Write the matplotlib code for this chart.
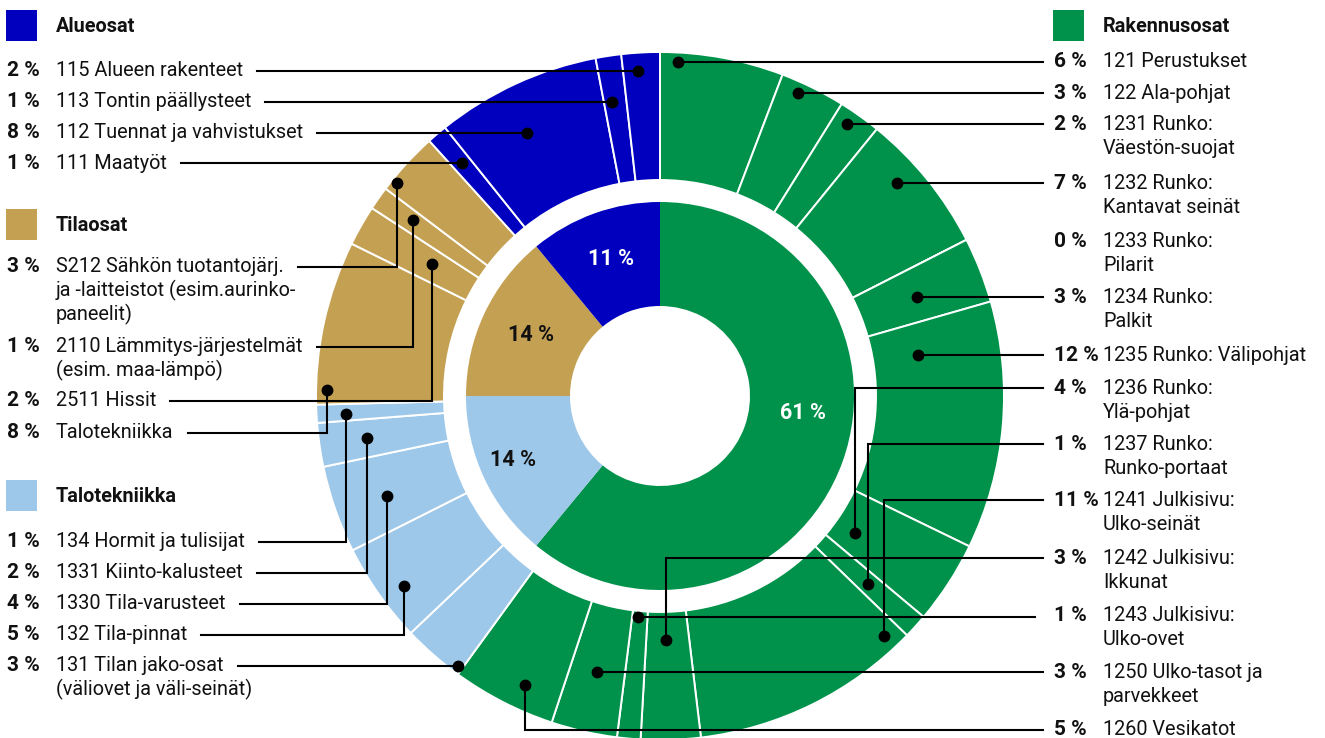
import matplotlib.pyplot as plt

# === Figure / donut geometry (pixels, y measured from the top) ===
W, H = 1325, 738
CX, CY = 660, 396
R_OUT, R_MID, R_IN, R_HOLE = 344, 216, 194, 90

BLUE = "#0000BE"
TAN = "#C4A052"
LIGHTBLUE = "#9EC8E9"
GREEN = "#00924A"
INK = "#111111"

plt.rcParams["font.family"] = ["Roboto", "DejaVu Sans"]

# === Inner ring: main groups, clockwise from the top ===
group_pct = [61, 14, 14, 11]
group_colors = [GREEN, LIGHTBLUE, TAN, BLUE]
group_text_colors = ["white", INK, INK, "white"]
group_label_xy = [(803, 413), (513, 460), (531, 335), (611, 259)]

# === Outer ring: sub-items, clockwise from the top ===
# shown = percentage printed in the label, share = slice size read off the ring
rak_names = ["121 Perustukset", "122 Ala-pohjat", "1231 Runko:\nVäestön-suojat",
             "1232 Runko:\nKantavat seinät", "1233 Runko:\nPilarit", "1234 Runko:\nPalkit",
             "1235 Runko: Välipohjat", "1236 Runko:\nYlä-pohjat", "1237 Runko:\nRunko-portaat",
             "1241 Julkisivu:\nUlko-seinät", "1242 Julkisivu:\nIkkunat",
             "1243 Julkisivu:\nUlko-ovet", "1250 Ulko-tasot ja\nparvekkeet", "1260 Vesikatot"]
rak_shown = [6, 3, 2, 7, 0, 3, 12, 4, 1, 11, 3, 1, 3, 5]
rak_share = [5.8, 3.06, 2.0, 6.64, 0.0, 3.07, 11.63, 3.9, 1.15, 10.85, 2.8, 1.1, 3.1, 4.9]

tek_names = ["131 Tilan jako-osat\n(väliovet ja väli-seinät)", "132 Tila-pinnat",
             "1330 Tila-varusteet", "1331 Kiinto-kalusteet", "134 Hormit ja tulisijat"]
tek_shown = [3, 5, 4, 2, 1]
tek_share = [2.9, 4.7, 4.1, 2.05, 0.85]

tila_names = ["Talotekniikka", "2511 Hissit",
              "2110 Lämmitys-järjestelmät\n(esim. maa-lämpö)",
              "S212 Sähkön tuotantojärj.\nja -laitteistot (esim.aurinko-\npaneelit)"]
tila_shown = [8, 2, 1, 3]
tila_share = [7.7, 1.9, 1.1, 3.0]

alue_names = ["111 Maatyöt", "112 Tuennat ja vahvistukset", "113 Tontin päällysteet",
              "115 Alueen rakenteet"]
alue_shown = [1, 8, 1, 2]
alue_share = [0.95, 7.75, 1.2, 1.8]

# === Label layout: (text baseline y, leader y, dot x, dot y) ===
rak_layout = [(67, 62, 678, 62), (99, 93, 798, 93), (130, 124, 847, 124),
              (189, 183, 897, 183), (247, None, None, None), (303, 297, 917, 297),
              (361, 355, 918, 355), (394, 388, 855, 533), (450, 444, 868, 584),
              (506, 500, 884, 636), (564, 558, 666, 640), (621, 617, 638, 617),
              (678, 672, 597, 672), (735, 730, 525, 685)]
tek_layout = [(671, 666, 458, 666), (640, 635, 404, 586), (609, 604, 387, 496),
              (578, 573, 367, 438), (547, 542, 346, 414)]
tila_layout = [(438, 433, 327, 390), (406, 401, 432, 264), (352, 347, 413, 220),
               (272, 267, 397, 183)]
alue_layout = [(169, 163, 462, 163), (138, 133, 527, 133), (107, 102, 612, 102),
               (76, 71, 638, 71)]

# legend headers: (name, colour, side, square top y)
headers = [("Alueosat", BLUE, "left", 10), ("Tilaosat", TAN, "left", 209),
           ("Talotekniikka", LIGHTBLUE, "left", 480), ("Rakennusosat", GREEN, "right", 10)]

LEFT_PCT_X, LEFT_TXT_X = 7, 56
RIGHT_PCT_X, RIGHT_TXT_X, RIGHT_LINE_END = 1054, 1103, 1043
LINE_STEP = 24
FS = 14.3
FS_PCT = 15

# === Draw ===
fig = plt.figure(figsize=(W / 100, H / 100), dpi=100)
ax = fig.add_axes([0, 0, 1, 1])

outer_share = rak_share + tek_share + tila_share + alue_share
outer_colors = ([GREEN] * len(rak_share) + [LIGHTBLUE] * len(tek_share)
                + [TAN] * len(tila_share) + [BLUE] * len(alue_share))

# y axis is inverted below, so startangle=-90 points up and counterclock=True runs clockwise
ax.pie(outer_share, radius=R_OUT, center=(CX, CY), colors=outer_colors,
       startangle=-90, counterclock=True, frame=True,
       wedgeprops=dict(width=R_OUT - R_MID, edgecolor="white", linewidth=1.4))
ax.pie(group_pct, radius=R_IN, center=(CX, CY), colors=group_colors,
       startangle=-90, counterclock=True, frame=True,
       wedgeprops=dict(width=R_IN - R_HOLE, edgecolor="none", linewidth=0))

ax.set_xlim(0, W)
ax.set_ylim(H, 0)
ax.set_aspect("equal")
ax.axis("off")

for pct, (x, y), c in zip(group_pct, group_label_xy, group_text_colors):
    ax.text(x, y, f"{pct} %", color=c, fontsize=15.5, fontweight="bold",
            ha="center", va="center")

for name, color, side, top in headers:
    sx = 6 if side == "left" else 1053
    tx = LEFT_TXT_X if side == "left" else RIGHT_TXT_X
    ax.add_patch(plt.Rectangle((sx, top), 31, 31, color=color, lw=0))
    ax.text(tx, top + 22, name, fontsize=FS, fontweight="bold", color=INK, va="baseline")

renderer = fig.canvas.get_renderer()


def draw_item(name, shown, layout, side):
    base, ly, dx, dy = layout
    lines = name.split("\n")
    pct_x = LEFT_PCT_X if side == "left" else RIGHT_PCT_X
    txt_x = LEFT_TXT_X if side == "left" else RIGHT_TXT_X
    ax.text(pct_x, base, f"{shown} %", fontsize=FS_PCT, fontweight="bold", color=INK,
            va="baseline")
    first = None
    for i, line in enumerate(lines):
        t = ax.text(txt_x, base + i * LINE_STEP, line, fontsize=FS, color=INK,
                    va="baseline")
        if first is None:
            first = t
    if ly is None:
        return
    if side == "left":
        x0 = first.get_window_extent(renderer).x1 + 14
        xs, ys = [x0, dx, dx], [ly, ly, dy]
    else:
        end = RIGHT_LINE_END if shown != 1 or dx > 700 else RIGHT_LINE_END - 8
        xs, ys = [dx, dx, end], [dy, ly, ly]
    ax.plot(xs, ys, color="black", lw=1.5, solid_joinstyle="miter")
    ax.plot(dx, dy, "o", color="black", ms=7.5)


for names, shown, layout, side in [(rak_names, rak_shown, rak_layout, "right"),
                                   (tek_names, tek_shown, tek_layout, "left"),
                                   (tila_names, tila_shown, tila_layout, "left"),
                                   (alue_names, alue_shown, alue_layout, "left")]:
    for n, s, lay in zip(names, shown, layout):
        draw_item(n, s, lay, side)

fig.savefig("out.png", dpi=100, facecolor="white")
